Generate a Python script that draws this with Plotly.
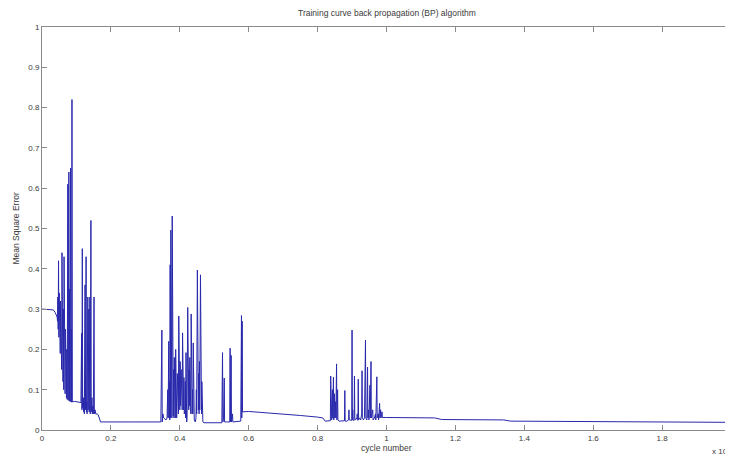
import plotly.graph_objects as go

# ---- data (cycle number in units of 10^4, mean square error) ----
plateau_x = [0.000, 0.020, 0.033, 0.038, 0.042, 0.044]
plateau_y = [0.300, 0.299, 0.298, 0.292, 0.285, 0.280]

cluster1_x = [0.045, 0.046, 0.047, 0.048, 0.049, 0.050, 0.051, 0.052, 0.053, 0.054,
              0.055, 0.056, 0.057, 0.058, 0.059, 0.060, 0.061, 0.062, 0.063, 0.064,
              0.065, 0.066, 0.067, 0.068, 0.069, 0.070, 0.071, 0.072, 0.073, 0.074,
              0.075, 0.076, 0.077, 0.078, 0.079, 0.080, 0.081, 0.082, 0.083, 0.084,
              0.085, 0.086, 0.087, 0.088]
cluster1_y = [0.270, 0.330, 0.250, 0.420, 0.230, 0.340, 0.210, 0.330, 0.190, 0.320,
              0.170, 0.300, 0.150, 0.440, 0.130, 0.330, 0.120, 0.300, 0.100, 0.430,
              0.095, 0.280, 0.090, 0.250, 0.085, 0.220, 0.080, 0.200, 0.076, 0.300,
              0.610, 0.074, 0.410, 0.640, 0.072, 0.350, 0.071, 0.300, 0.650, 0.070,
              0.250, 0.069, 0.820, 0.070]

flat1_x = [0.095, 0.105, 0.113]
flat1_y = [0.071, 0.069, 0.068]

cluster2_x = [0.115, 0.116, 0.117, 0.118, 0.120, 0.121, 0.122, 0.123, 0.125, 0.126,
              0.128, 0.129, 0.130, 0.131, 0.133, 0.134, 0.136, 0.137, 0.139, 0.140,
              0.142, 0.143, 0.145, 0.146, 0.148, 0.149, 0.151, 0.152, 0.154, 0.156,
              0.160, 0.163, 0.166, 0.170]
cluster2_y = [0.240, 0.050, 0.450, 0.055, 0.080, 0.045, 0.070, 0.040, 0.360, 0.050,
              0.430, 0.045, 0.070, 0.040, 0.330, 0.050, 0.300, 0.045, 0.330, 0.040,
              0.520, 0.045, 0.080, 0.040, 0.060, 0.040, 0.330, 0.040, 0.050, 0.040,
              0.040, 0.038, 0.028, 0.020]

flat2_x = [0.250, 0.345]
flat2_y = [0.020, 0.020]

cluster3_x = [0.348, 0.349, 0.350, 0.351, 0.353, 0.356, 0.360, 0.363, 0.365, 0.366,
              0.368, 0.369, 0.370, 0.371, 0.372, 0.373, 0.374, 0.375, 0.376, 0.377,
              0.378, 0.379, 0.380, 0.381, 0.382, 0.383, 0.384, 0.385, 0.386, 0.387,
              0.388, 0.389, 0.390, 0.391, 0.393, 0.394, 0.395, 0.396, 0.397, 0.398,
              0.399, 0.400, 0.401, 0.402, 0.404, 0.405, 0.406, 0.407, 0.408, 0.409,
              0.410, 0.411, 0.412, 0.413, 0.414, 0.415, 0.416, 0.417, 0.418, 0.419,
              0.420, 0.421, 0.423, 0.424, 0.425, 0.426, 0.427, 0.428, 0.429, 0.430,
              0.431, 0.432, 0.433, 0.434, 0.435, 0.436, 0.437, 0.438, 0.439, 0.440,
              0.442, 0.445, 0.447, 0.448, 0.449, 0.451, 0.452, 0.453, 0.454, 0.455,
              0.456, 0.457, 0.458, 0.460, 0.461, 0.462, 0.463, 0.464, 0.465, 0.467,
              0.470]
cluster3_y = [0.248, 0.020, 0.140, 0.040, 0.030, 0.028, 0.025, 0.030, 0.100, 0.030,
              0.220, 0.030, 0.120, 0.025, 0.410, 0.030, 0.496, 0.040, 0.330, 0.030,
              0.531, 0.040, 0.350, 0.035, 0.150, 0.030, 0.180, 0.035, 0.120, 0.030,
              0.200, 0.040, 0.100, 0.030, 0.140, 0.040, 0.080, 0.040, 0.283, 0.050,
              0.120, 0.050, 0.170, 0.060, 0.150, 0.050, 0.110, 0.050, 0.241, 0.060,
              0.170, 0.050, 0.130, 0.040, 0.100, 0.050, 0.120, 0.030, 0.192, 0.030,
              0.020, 0.030, 0.304, 0.060, 0.200, 0.050, 0.150, 0.060, 0.180, 0.050,
              0.100, 0.040, 0.288, 0.050, 0.130, 0.040, 0.100, 0.040, 0.216, 0.030,
              0.025, 0.020, 0.030, 0.100, 0.040, 0.397, 0.050, 0.170, 0.050, 0.140,
              0.040, 0.170, 0.050, 0.385, 0.050, 0.150, 0.040, 0.120, 0.030, 0.020,
              0.018]

mid_x = [0.522, 0.524, 0.525, 0.526, 0.527, 0.529, 0.530, 0.535, 0.545, 0.546,
         0.547, 0.549, 0.550, 0.553, 0.554, 0.577, 0.579, 0.580, 0.581, 0.582,
         0.600, 0.650, 0.700, 0.750, 0.800, 0.815, 0.822, 0.835]
mid_y = [0.018, 0.192, 0.020, 0.150, 0.030, 0.129, 0.020, 0.020, 0.020, 0.203,
         0.020, 0.185, 0.020, 0.040, 0.020, 0.022, 0.284, 0.030, 0.270, 0.045,
         0.046, 0.043, 0.040, 0.036, 0.032, 0.030, 0.022, 0.023]

cluster4_x = [0.837, 0.838, 0.839, 0.840, 0.841, 0.843, 0.844, 0.846, 0.847, 0.849,
              0.850, 0.852, 0.853, 0.855, 0.856, 0.858, 0.859, 0.862, 0.870, 0.878,
              0.879, 0.880, 0.885, 0.890, 0.891, 0.892, 0.899, 0.900, 0.901, 0.902,
              0.903, 0.906, 0.907, 0.908, 0.910, 0.914, 0.915, 0.917, 0.918, 0.919,
              0.922, 0.925, 0.928, 0.929, 0.930, 0.933, 0.936, 0.939, 0.940, 0.943,
              0.945, 0.946, 0.948, 0.949, 0.952, 0.953, 0.955, 0.956, 0.960, 0.961,
              0.965, 0.968, 0.969, 0.972, 0.973, 0.976, 0.977, 0.980, 0.981, 0.983,
              0.984, 0.987, 0.988]
cluster4_y = [0.023, 0.134, 0.025, 0.060, 0.025, 0.100, 0.030, 0.131, 0.025, 0.090,
              0.030, 0.070, 0.030, 0.164, 0.025, 0.100, 0.025, 0.022, 0.022, 0.023,
              0.098, 0.022, 0.022, 0.025, 0.050, 0.025, 0.024, 0.248, 0.025, 0.050,
              0.024, 0.024, 0.134, 0.030, 0.025, 0.030, 0.040, 0.024, 0.126, 0.025,
              0.030, 0.025, 0.040, 0.147, 0.030, 0.025, 0.030, 0.223, 0.030, 0.025,
              0.156, 0.030, 0.050, 0.025, 0.111, 0.030, 0.170, 0.030, 0.050, 0.025,
              0.030, 0.040, 0.025, 0.132, 0.030, 0.040, 0.025, 0.066, 0.030, 0.050,
              0.030, 0.045, 0.031]

tail_x = [1.000, 1.140, 1.160, 1.340, 1.360, 1.600, 1.800, 2.000]
tail_y = [0.031, 0.030, 0.026, 0.025, 0.022, 0.021, 0.020, 0.019]

x_ticks = [0, 0.2, 0.4, 0.6, 0.8, 1, 1.2, 1.4, 1.6, 1.8, 2]
x_tick_labels = ["0", "0.2", "0.4", "0.6", "0.8", "1", "1.2", "1.4", "1.6", "1.8", "2"]
y_ticks = [0, 0.1, 0.2, 0.3, 0.4, 0.5, 0.6, 0.7, 0.8, 0.9, 1]
y_tick_labels = ["0", "0.1", "0.2", "0.3", "0.4", "0.5", "0.6", "0.7", "0.8", "0.9", "1"]

cycle = (plateau_x + cluster1_x + flat1_x + cluster2_x + flat2_x + cluster3_x
         + mid_x + cluster4_x + tail_x)
mse = (plateau_y + cluster1_y + flat1_y + cluster2_y + flat2_y + cluster3_y
       + mid_y + cluster4_y + tail_y)

# page body adds an 8px offset; size the figure so the plot lands where the reference has it
OFF = 8
W, H = 733 - OFF, 459 - OFF
L, T = 42 - OFF, 27 - OFF
R = W - (731 - OFF)
B = H - (430 - OFF)
FONT = "Liberation Sans, Arial, sans-serif"
AXC = "#8a8a8a"
TXT = "#3a3a3a"

fig = go.Figure()
fig.add_trace(go.Scatter(x=cycle, y=mse, mode="lines",
                         line=dict(color="#2828ac", width=1),
                         showlegend=False, hoverinfo="skip"))

fig.update_layout(
    width=W, height=H,
    margin=dict(l=L, r=R, t=T, b=B, pad=0),
    paper_bgcolor="white", plot_bgcolor="white",
    font=dict(family=FONT, size=8, color=TXT),
    showlegend=False,
)
fig.update_xaxes(range=[0, 2], tickvals=x_ticks, ticktext=x_tick_labels,
                 showgrid=False, zeroline=False, showline=True, linecolor=AXC,
                 linewidth=1, mirror="ticks", ticks="inside", ticklen=5,
                 tickcolor=AXC, tickfont=dict(size=8, color=TXT))
fig.update_yaxes(range=[0, 1], tickvals=y_ticks, ticktext=y_tick_labels,
                 showgrid=False, zeroline=False, showline=True, linecolor=AXC,
                 linewidth=1, mirror="ticks", ticks="inside", ticklen=5,
                 tickcolor=AXC, tickfont=dict(size=8, color=TXT))

ph = H - T - B
pw = W - L - R
bottom_px = 430  # reference pixel row of the x axis
fig.add_annotation(text="Training curve back propagation (BP) algorithm",
                   xref="paper", yref="paper", x=0.5, y=1 + (27 - 13.5) / ph,
                   xanchor="center", yanchor="middle", showarrow=False,
                   font=dict(size=8.5, color=TXT, family=FONT))
fig.add_annotation(text="cycle number", xref="paper", yref="paper",
                   x=0.5, y=-(448 - bottom_px) / ph, xanchor="center",
                   yanchor="middle", showarrow=False,
                   font=dict(size=8.5, color=TXT, family=FONT))
fig.add_annotation(text="Mean Square Error", xref="paper", yref="paper",
                   x=(15 - 42) / pw, y=0.5, xanchor="center", yanchor="middle",
                   textangle=-90, showarrow=False,
                   font=dict(size=8.5, color=TXT, family=FONT))
fig.add_annotation(text="x 10<sup>4</sup>", xref="paper", yref="paper",
                   x=(710 - 42) / pw, y=-(451 - bottom_px) / ph, xanchor="left",
                   yanchor="middle", showarrow=False,
                   font=dict(size=8, color=TXT, family=FONT))

fig.write_html("out.html")
